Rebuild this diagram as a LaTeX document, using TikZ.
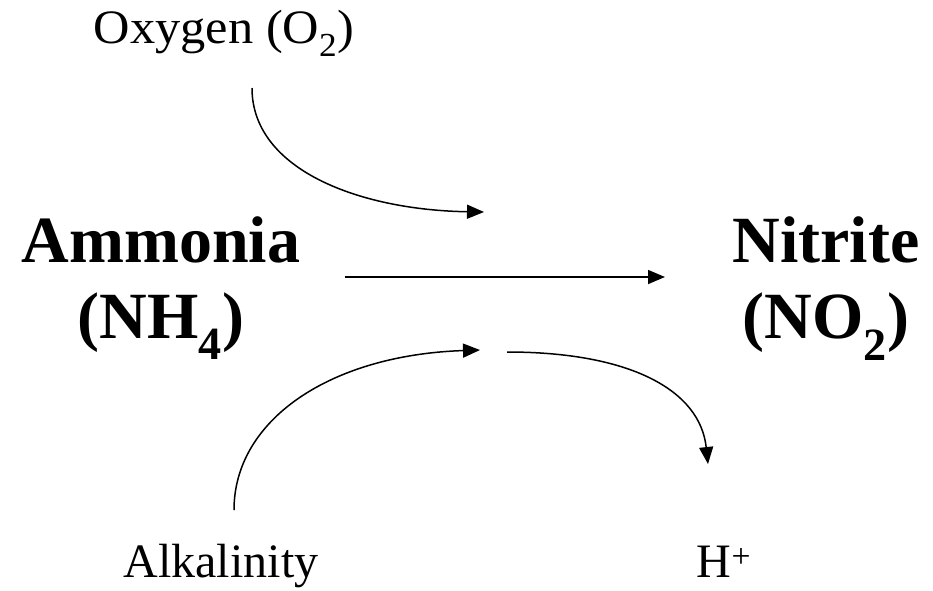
\documentclass[tikz,border=0pt]{standalone}
\usepackage{fontspec}
\setmainfont{Liberation Serif}
\usetikzlibrary{arrows.meta}
\begin{document}
\begin{tikzpicture}[x=1pt,y=-1pt,
  conn/.style={line width=1.5pt,-{Triangle[length=17pt,width=14pt]}},
  small/.style={font=\fontsize{48}{56}\selectfont,inner sep=0pt,anchor=base},
  big/.style={font=\bfseries\fontsize{66}{76}\selectfont,inner sep=0pt,anchor=base,align=center}]
\useasboundingbox (0,0) rectangle (933,590);
\node[small,xscale=1.05] (oxy) at (224,43) {Oxygen (O\textsubscript{2})};
\node[big] (amm) at (161,262) {Ammonia};
\node[big] (nh4) at (161,338) {(NH\textsubscript{4})};
\node[big] (nit) at (826,262) {Nitrite};
\node[big] (no2) at (826,338) {(NO\textsubscript{2})};
\node[small] (alk) at (221,577) {Alkalinity};
\node[small] (hp) at (724,577) {H\textsuperscript{+}};
\coordinate (o1) at (252,88);
\coordinate (o2) at (484,212);
\coordinate (m1) at (345,277);
\coordinate (m2) at (665,277);
\coordinate (a1) at (234,510);
\coordinate (a2) at (480,350);
\coordinate (h1) at (507,352);
\coordinate (h2) at (708,464);
\draw[conn] (o1) .. controls (252,170) and (360,210) .. (o2);
\draw[conn] (m1) -- (m2);
\draw[conn] (a1) .. controls (234,420) and (330,355) .. (a2);
\draw[conn] (h1) .. controls (630,352) and (700,390) .. (h2);
\end{tikzpicture}
\end{document}
